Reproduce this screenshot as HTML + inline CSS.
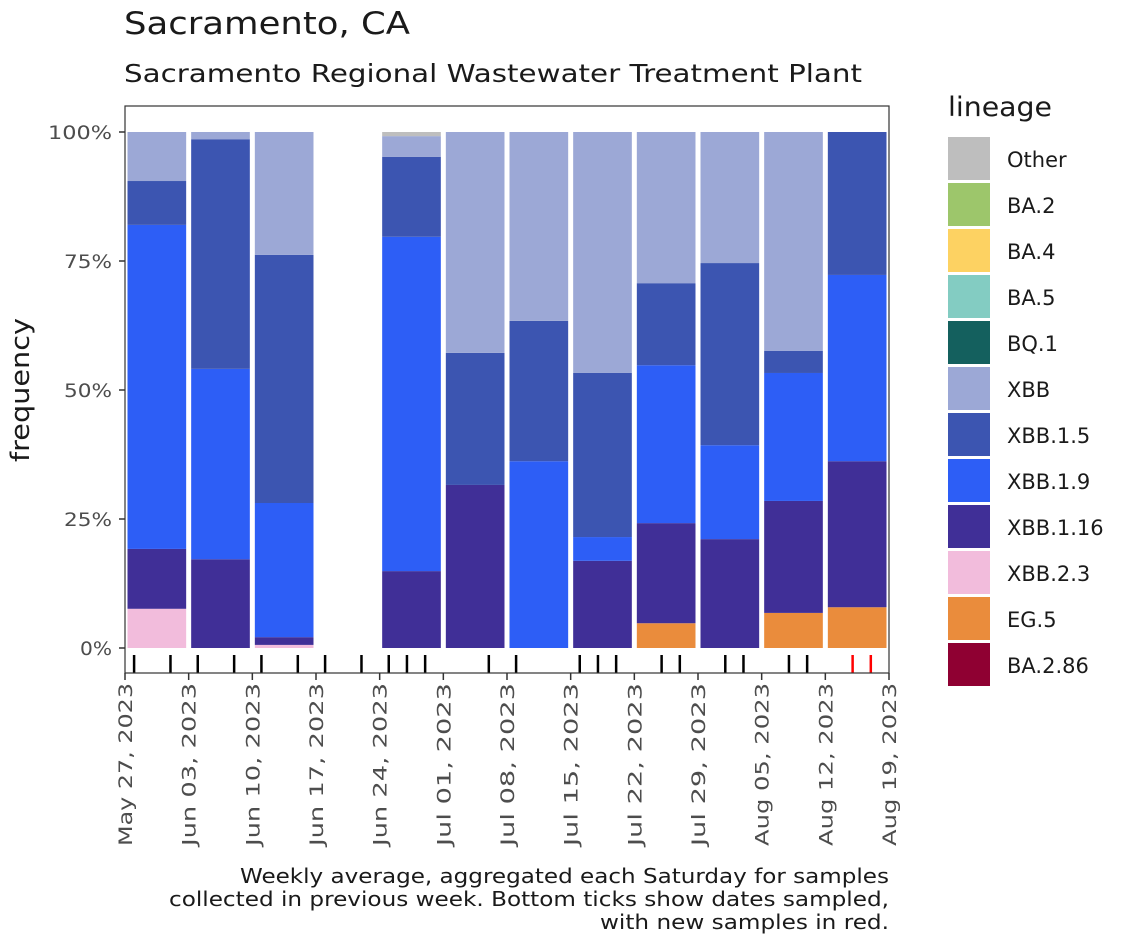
<!DOCTYPE html>
<html><head><meta charset="utf-8"><style>
body{margin:0;background:#fff;font-family:"Liberation Sans","DejaVu Sans",sans-serif;}
svg text{font-family:"DejaVu Sans","Liberation Sans",sans-serif;}
</style></head><body>
<svg id="chart" width="1138" height="942" xmlns="http://www.w3.org/2000/svg">
<text x="124" y="34" font-size="31" textLength="286" lengthAdjust="spacingAndGlyphs" fill="#1a1a1a">Sacramento, CA</text>
<text x="124" y="82" font-size="25" textLength="738" lengthAdjust="spacingAndGlyphs" fill="#1a1a1a">Sacramento Regional Wastewater Treatment Plant</text>
<text transform="translate(29,390) rotate(-90)" text-anchor="middle" font-size="26" textLength="144" lengthAdjust="spacingAndGlyphs" fill="#1a1a1a">frequency</text>
<g id="bars"></g><g id="yaxis"></g><g id="xaxis"></g><g id="samples"></g>
<rect x="125" y="106" width="764" height="567" fill="none" stroke="#333" stroke-width="1.2"/>
<g id="legend"><text x="948" y="116" font-size="27" textLength="104" lengthAdjust="spacingAndGlyphs" fill="#1a1a1a">lineage</text></g>
<g font-size="20" fill="#1a1a1a" text-anchor="end">
<text x="889" y="883" textLength="649" lengthAdjust="spacingAndGlyphs">Weekly average, aggregated each Saturday for samples</text>
<text x="889" y="906" textLength="720" lengthAdjust="spacingAndGlyphs">collected in previous week. Bottom ticks show dates sampled,</text>
<text x="889" y="929" textLength="289" lengthAdjust="spacingAndGlyphs">with new samples in red.</text></g>
</svg>
<script>
const weekLabels=["May 27, 2023","Jun 03, 2023","Jun 10, 2023","Jun 17, 2023","Jun 24, 2023","Jul 01, 2023","Jul 08, 2023","Jul 15, 2023","Jul 22, 2023","Jul 29, 2023","Aug 05, 2023","Aug 12, 2023","Aug 19, 2023"];
const barWeeks=[0,1,2,4,5,6,7,8,9,10,11];
const lineages=["EG.5","XBB.2.3","XBB.1.16","XBB.1.9","XBB.1.5","XBB","Other"];
const colors={"Other":"#bebebe","BA.2":"#9dc66b","BA.4":"#fdd262","BA.5":"#83ccc2","BQ.1":"#14605e","XBB":"#9ca8d6","XBB.1.5":"#3c55b1","XBB.1.9":"#2d5ef6","XBB.1.16":"#402f97","XBB.2.3":"#f2bcdc","EG.5":"#ea8c3c","BA.2.86":"#8f0032"};
const legendOrder=["Other","BA.2","BA.4","BA.5","BQ.1","XBB","XBB.1.5","XBB.1.9","XBB.1.16","XBB.2.3","EG.5","BA.2.86"];
const valEG5=[0,0,0,0,0,0,0,4.8,0,6.8,7.9];
const valXBB23=[7.6,0,0.6,0,0,0,0,0,0,0,0];
const valXBB116=[11.6,17.2,1.5,14.9,31.6,0,16.9,19.4,21.1,21.7,28.3];
const valXBB19=[62.8,36.9,26.0,64.8,0,36.2,4.6,30.6,18.2,24.8,36.1];
const valXBB15=[8.5,44.5,48.1,15.5,25.6,27.2,31.8,15.9,35.3,4.3,27.7];
const valXBB=[9.5,1.4,23.8,4.0,42.8,36.6,46.7,29.3,25.4,42.4,0];
const valOther=[0,0,0,0.8,0,0,0,0,0,0,0];
const sampleDays=[1,5,8,12,15,19,22,26,29,31,33,40,43,50,52,54,59,61,66,68,73,75,80,82];
const sampleNew=[0,0,0,0,0,0,0,0,0,0,0,0,0,0,0,0,0,0,0,0,0,0,1,1];
const yTicks=[0,25,50,75,100];
const series=[valEG5,valXBB23,valXBB116,valXBB19,valXBB15,valXBB,valOther];
const NS="http://www.w3.org/2000/svg";
const X0=125,X1=889,Y0=648,Y100=132;
const xDay=d=>X0+(X1-X0)*d/84;
const y=v=>Y0+(Y100-Y0)*v/100;
function mk(t,a,p){const e=document.createElementNS(NS,t);for(const k in a)e.setAttribute(k,a[k]);document.getElementById(p).appendChild(e);return e;}
barWeeks.forEach((w,i)=>{let cum=0;const xl=xDay(w*7)+2.5,xr=xDay(w*7+7)-2.5;
 series.forEach((s,j)=>{const v=s[i];if(v<=0)return;
  const r=mk('rect',{x:xl,y:y(cum+v),width:xr-xl,height:y(cum)-y(cum+v),fill:colors[lineages[j]]},'bars');
  
  
  cum+=v;});});
yTicks.forEach(t=>{mk('line',{x1:119,x2:125,y1:y(t),y2:y(t),stroke:'#333','stroke-width':1.5},'yaxis');
 const s=t+'%';
 const tx=mk('text',{x:112,y:y(t)+7,'text-anchor':'end','font-size':19,fill:'#4d4d4d',textLength:s.length*16,lengthAdjust:'spacingAndGlyphs'},'yaxis');tx.textContent=s;
 
 });
weekLabels.forEach((l,i)=>{const x=xDay(i*7);
 mk('line',{x1:x,x2:x,y1:673,y2:680,stroke:'#333','stroke-width':1.5},'xaxis');
 const tx=mk('text',{transform:`translate(${x+7},683) rotate(-90)`,'text-anchor':'end','font-size':19,fill:'#4d4d4d',textLength:163,lengthAdjust:'spacingAndGlyphs'},'xaxis');tx.textContent=l;
 
 });
sampleDays.forEach((d,i)=>{const x=xDay(d);
 const ln=mk('line',{x1:x,x2:x,y1:655,y2:673,stroke:sampleNew[i]?'#ff0000':'#000','stroke-width':2.5},'samples');
 
 });
legendOrder.forEach((l,i)=>{const yy=137+i*46;
 const r=mk('rect',{x:948,y:yy,width:42,height:43,fill:colors[l]},'legend');
 
 
 const t=mk('text',{x:1007,y:yy+30,'font-size':21,fill:'#1a1a1a'},'legend');t.textContent=l;
 
 });
</script>
</body></html>
